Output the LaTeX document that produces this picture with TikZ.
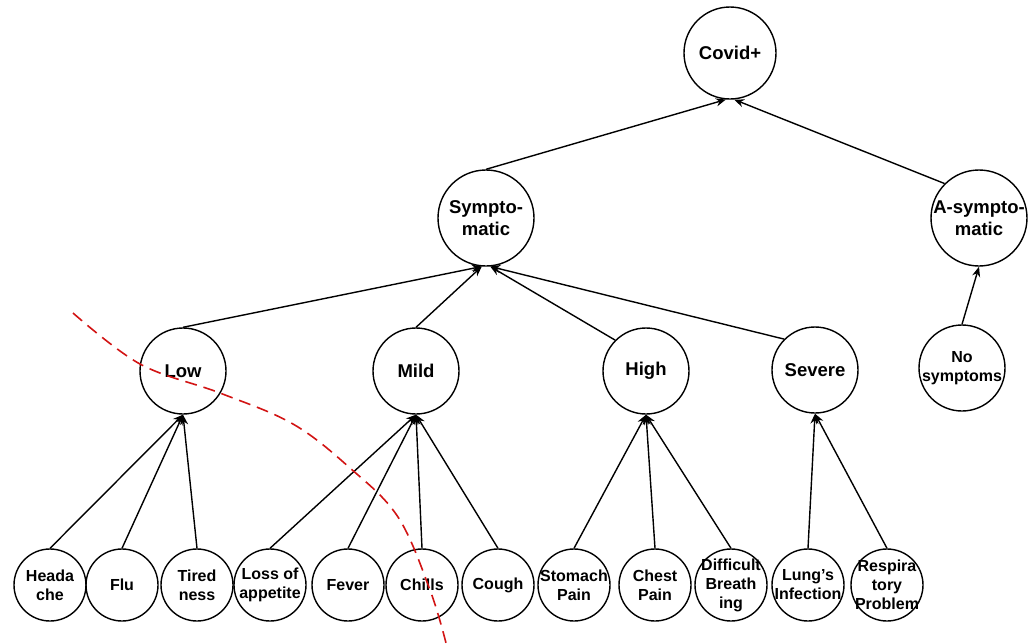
\documentclass[tikz,border=0pt]{standalone}
\usepackage{fontspec}
\setmainfont{Liberation Sans}
\usetikzlibrary{arrows.meta}
\definecolor{dashred}{RGB}{210,20,20}
\begin{document}
\begin{tikzpicture}[x=1pt,y=-1pt,
  base/.style={circle,draw,line width=1.4pt,inner sep=-30pt,align=center},
  bigfont/.style={font=\fontsize{18.5}{22}\selectfont\bfseries},
  smallfont/.style={font=\fontsize{16}{19}\selectfont\bfseries},
  big/.style={base,bigfont,minimum size=96pt},
  mid/.style={base,bigfont,minimum size=86pt},
  leaf/.style={base,smallfont,minimum size=72pt},
  arr/.style={line width=1.4pt,-{Stealth[length=10pt,width=8pt]}},
  cut/.style={dashred,line width=1.6pt,dash pattern=on 12pt off 7pt}]
\useasboundingbox (0,0) rectangle (1036,643);
% top
\node[big,minimum size=92pt] (cov) at (730,53) {Covid+};
\node[big] (sym) at (486,218) {Sympto-\\matic};
\node[big] (asym) at (979,218) {A-sympto-\\matic};
% middle
\node[mid] (low) at (183,371) {Low};
\node[mid] (mild) at (416,371) {Mild};
\node[mid] (high) at (646,371) {High};
\node[mid] (sev) at (815,370) {Severe};
\node[mid,smallfont] (nos) at (962,368) {No\\symptoms};
% leaves
\node[leaf] (hd) at (50,585) {Heada\\che};
\node[leaf] (flu) at (122,585) {Flu};
\node[leaf] (tir) at (197,585) {Tired\\ness};
\node[leaf] (loa) at (270,585) {Loss of\\appetite};
\node[leaf] (fev) at (348,585) {Fever};
\node[leaf] (chi) at (422,585) {Chills};
\node[leaf] (cou) at (498,585) {Cough};
\node[leaf] (sto) at (574,585) {Stomach\\Pain};
\node[leaf] (che) at (655,585) {Chest\\Pain};
\node[leaf] (dif) at (731,585) {Difficult\\Breath\\ing};
\node[leaf] (lun) at (808,585) {Lung's\\Infection};
\node[leaf] (res) at (887,585) {Respira\\tory\\Problem};
% edges
\draw[arr] (sym.north) -- (cov.265);
\draw[arr] (asym.135) -- (cov.275);
\draw[arr] (low.north) -- (sym.265);
\draw[arr] (mild.north) -- (sym.265);
\draw[arr] (high.135) -- (sym.275);
\draw[arr] (sev.135) -- (sym.275);
\draw[arr] (nos.north) -- (asym.south);
\draw[arr] (hd.north) -- (low.south);
\draw[arr] (flu.north) -- (low.south);
\draw[arr] (tir.north) -- (low.south);
\draw[arr] (loa.north) -- (mild.south);
\draw[arr] (fev.north) -- (mild.south);
\draw[arr] (chi.north) -- (mild.south);
\draw[arr] (cou.north) -- (mild.south);
\draw[arr] (sto.north) -- (high.south);
\draw[arr] (che.north) -- (high.south);
\draw[arr] (dif.north) -- (high.south);
\draw[arr] (lun.north) -- (sev.south);
\draw[arr] (res.north) -- (sev.south);
% dashed cut
\draw[cut] plot[smooth,tension=0.6] coordinates {(73,313) (140,364) (220,393) (293,424) (350,468) (398,517) (430,590) (446,643)};
\end{tikzpicture}
\end{document}
